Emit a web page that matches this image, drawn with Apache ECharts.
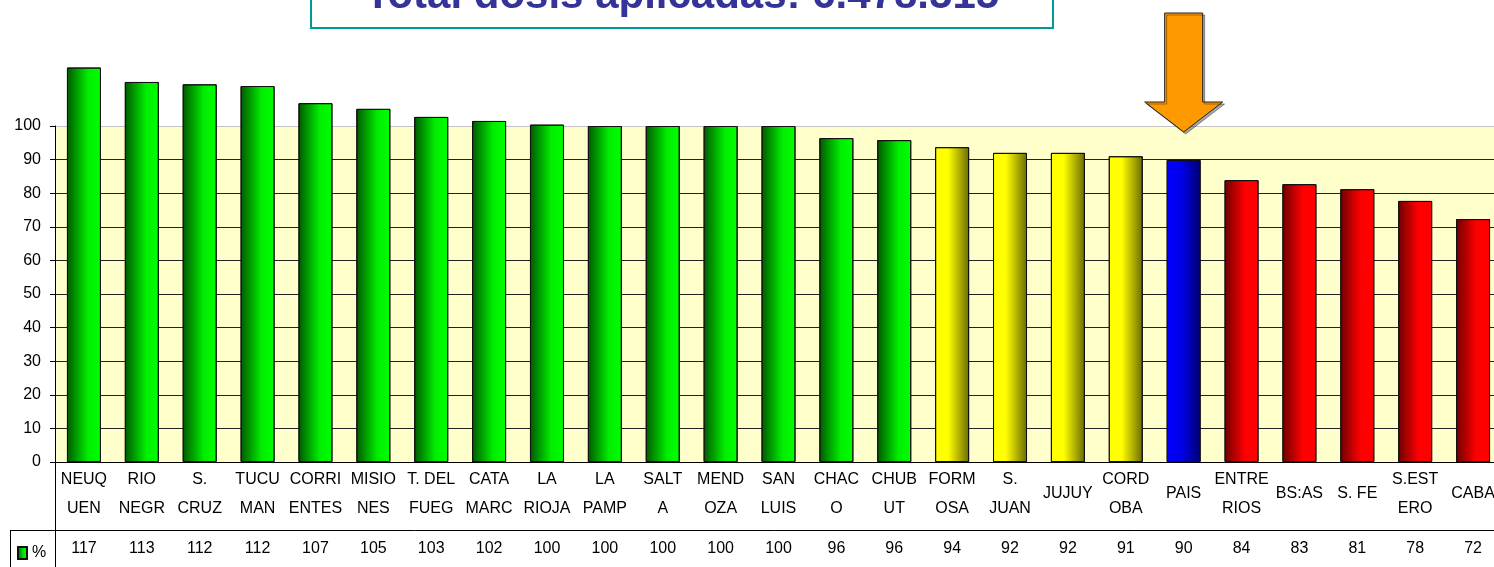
<!DOCTYPE html>
<html>
<head>
<meta charset="utf-8">
<script src="https://cdn.jsdelivr.net/npm/echarts@6/dist/echarts.min.js"></script>
<style>
    html, body { margin: 0; padding: 0; background: #fff; overflow: hidden; }
    #chart { width: 1494px; height: 567px; }
</style>
</head>
<body>
<div id="chart"></div>
<script>
// provincias (etiquetas en dos renglones, como en la tabla)
const provincias = [
    'NEUQ\nUEN', 'RIO\nNEGR', 'S.\nCRUZ', 'TUCU\nMAN', 'CORRI\nENTES', 'MISIO\nNES', 'T. DEL\nFUEG',
    'CATA\nMARC', 'LA\nRIOJA', 'LA\nPAMP', 'SALT\nA', 'MEND\nOZA', 'SAN\nLUIS', 'CHAC\nO', 'CHUB\nUT',
    'FORM\nOSA', 'S.\nJUAN', 'JUJUY', 'CORD\nOBA', 'PAIS', 'ENTRE\nRIOS', 'BS:AS', 'S. FE', 'S.EST\nERO', 'CABA'
];
const porcentaje = [
    117.4, 113.1, 112.4, 111.9, 106.8, 105.1, 102.7, 101.5, 100.4, 100, 100, 100, 100,
    96.4, 95.8, 93.7, 92, 92, 91, 89.9, 83.9, 82.7, 81.2, 77.7, 72.3
];
// grupo de color de cada barra
const grupo = [
    'v', 'v', 'v', 'v', 'v', 'v', 'v', 'v', 'v', 'v', 'v', 'v', 'v', 'v', 'v',
    'a', 'a', 'a', 'a', 'p', 'r', 'r', 'r', 'r', 'r'
];
const tituloTexto = 'Total dosis aplicadas: 6.478.515';

const grad = (stops) => ({
    type: 'linear', x: 0, y: 0, x2: 1, y2: 0,
    colorStops: stops.map(s => ({ offset: s[0], color: s[1] }))
});
const colores = {
    v: grad([[0, '#005800'], [0.62, '#00ee00'], [1, '#00ff00']]),
    a: grad([[0, '#ffff00'], [0.38, '#ffff00'], [1, '#6a6a00']]),
    p: grad([[0, '#0000ff'], [0.45, '#0000e6'], [1, '#000070']]),
    r: grad([[0, '#6e0000'], [0.6, '#ff0000'], [1, '#ff0000']])
};

// lineas de division: negras, la de 100 gris
const lineasY = [0, 10, 20, 30, 40, 50, 60, 70, 80, 90, 100].map(v => v === 100 ? '#c4c4c4' : '#222');

const fuente = 'Liberation Sans, Arial, sans-serif';
const chart = echarts.init(document.getElementById('chart'));

const option = {
    animation: false,
    textStyle: { fontFamily: fuente },
    // la tabla sigue un poco mas alla del borde derecho (CABA queda cortada)
    grid: {
        left: 55, right: -8, top: 126, bottom: 105,
        outerBoundsMode: 'none',
        show: true, backgroundColor: '#ffffcc', borderWidth: 0
    },
    legend: {
        data: ['%'],
        left: 12, top: 540,
        itemWidth: 9, itemHeight: 12, itemGap: 6,
        icon: 'rect',
        textStyle: { fontSize: 16, color: '#000', fontFamily: fuente }
    },
    xAxis: [
        {
            type: 'category',
            data: provincias,
            axisLine: { lineStyle: { color: '#000', width: 1 } },
            axisTick: { interval: 0, length: 68, lineStyle: { color: '#666' } },
            axisLabel: {
                interval: 0, margin: 32, verticalAlign: 'middle',
                fontSize: 16, lineHeight: 29, color: '#000', fontFamily: fuente
            }
        },
        {
            type: 'category',
            data: porcentaje.map(v => String(Math.round(v))),
            position: 'bottom',
            offset: 68,
            axisLine: { lineStyle: { color: '#000', width: 1 } },
            axisTick: { interval: 0, length: 37, lineStyle: { color: '#666' } },
            axisLabel: {
                interval: 0, margin: 19, verticalAlign: 'middle',
                fontSize: 16, color: '#000', fontFamily: fuente
            }
        }
    ],
    yAxis: {
        type: 'value',
        min: 0, max: 100, interval: 10,
        axisLine: { show: true, lineStyle: { color: '#000' } },
        axisTick: { show: true, length: 5, lineStyle: { color: '#000' } },
        axisLabel: { margin: 14, fontSize: 16, color: '#000', fontFamily: fuente },
        splitLine: { show: true, lineStyle: { color: lineasY, width: 1 } }
    },
    series: [
        {
            name: '%',
            type: 'bar',
            clip: false,
            barWidth: 34,
            itemStyle: { color: colores.v, borderColor: '#111', borderWidth: 1 },
            data: porcentaje.map((v, i) => ({
                value: v,
                itemStyle: { color: colores[grupo[i]] }
            })),
            z: 3
        }
    ]
};
chart.setOption(option);

// recuadro del titulo, bordes de la tabla y flecha sobre PAIS
const iPais = provincias.indexOf('PAIS');
const [px] = chart.convertToPixel({ xAxisIndex: 0, yAxisIndex: 0 }, [iPais, 0]);
const [, y100] = chart.convertToPixel({ xAxisIndex: 0, yAxisIndex: 0 }, [iPais, 100]);
const tip = y100 + 6;

chart.setOption({
    graphic: [
        {
            type: 'rect', shape: { x: 311, y: -40, width: 742, height: 68 },
            style: { fill: '#fff', stroke: '#009999', lineWidth: 2 }, z: 10
        },
        {
            type: 'text', x: 682, y: 17, z: 11,
            style: {
                text: tituloTexto, fill: '#333399', fontSize: 42, fontWeight: 'bold',
                fontFamily: fuente, align: 'center', verticalAlign: 'bottom'
            }
        },
        { type: 'line', shape: { x1: 10, y1: 530.5, x2: 55, y2: 530.5 }, style: { stroke: '#000', lineWidth: 1 }, z: 10 },
        { type: 'line', shape: { x1: 10.5, y1: 530, x2: 10.5, y2: 567 }, style: { stroke: '#000', lineWidth: 1 }, z: 10 },
        { type: 'line', shape: { x1: 55.5, y1: 462, x2: 55.5, y2: 567 }, style: { stroke: '#000', lineWidth: 1 }, z: 10 },
        {
            type: 'polygon', z: 12,
            shape: {
                points: [
                    [px - 19, 13], [px + 19, 13], [px + 19, tip - 30], [px + 39, tip - 30],
                    [px, tip], [px - 39, tip - 30], [px - 19, tip - 30]
                ]
            },
            style: {
                fill: '#ff9900', stroke: '#222', lineWidth: 1,
                shadowColor: 'rgba(0,0,0,0.35)', shadowOffsetX: 2, shadowOffsetY: 2
            }
        }
    ]
});
</script>
</body>
</html>
